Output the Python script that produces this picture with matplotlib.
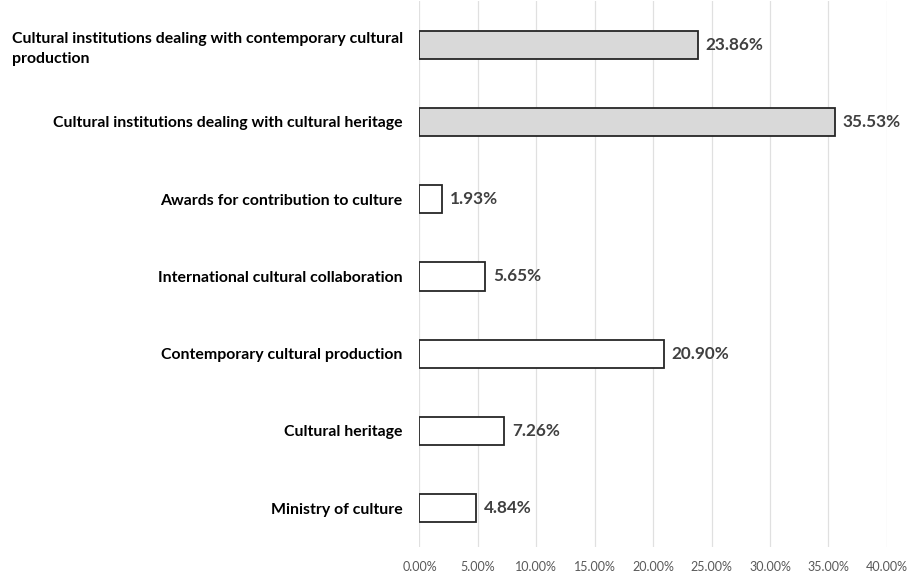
import matplotlib.pyplot as plt
from matplotlib.ticker import FuncFormatter

plt.rcParams['font.family'] = ['Lato', 'DejaVu Sans']

# categories bottom to top
categories = [
    'Ministry of culture',
    'Cultural heritage',
    'Contemporary cultural production',
    'International cultural collaboration',
    'Awards for contribution to culture',
    'Cultural institutions dealing with cultural heritage',
    'Cultural institutions dealing with contemporary cultural\nproduction',
]
shares = [4.84, 7.26, 20.90, 5.65, 1.93, 35.53, 23.86]
fills = ['white', 'white', 'white', 'white', 'white', '#d9d9d9', '#d9d9d9']
xticks = [0, 5, 10, 15, 20, 25, 30, 35, 40]

fig = plt.figure(figsize=(9.08, 5.72), dpi=100)
ax = fig.add_axes([0.462, 0.044, 0.5146, 0.955])

pos = range(len(categories))
ax.barh(pos, shares, height=0.365, color=fills, edgecolor='#262626', linewidth=1.3, zorder=3)

for y, v in zip(pos, shares):
    ax.text(v + 0.65, y, '%.2f%%' % v, va='center', ha='left',
            fontsize=12.3, fontweight='bold', color='#404040')

ax.set_xlim(0, 40)
ax.set_ylim(-0.5, len(categories) - 0.43)
ax.set_xticks(xticks)
ax.xaxis.set_major_formatter(FuncFormatter(lambda v, p: '%.2f%%' % v))
ax.set_yticks(list(pos))
ax.set_yticklabels(categories, fontsize=11.4, fontweight='bold', color='black',
                   linespacing=1.55)
for lab in ax.get_yticklabels():
    lab.set_multialignment('left')

ax.grid(axis='x', color='#e0e0e0', linewidth=0.9, zorder=0)
ax.tick_params(axis='x', length=0, labelsize=9, labelcolor='#595959', pad=10)
ax.tick_params(axis='y', length=0, pad=12)
for s in ax.spines.values():
    s.set_visible(False)

fig.savefig('out.png', dpi=100)
